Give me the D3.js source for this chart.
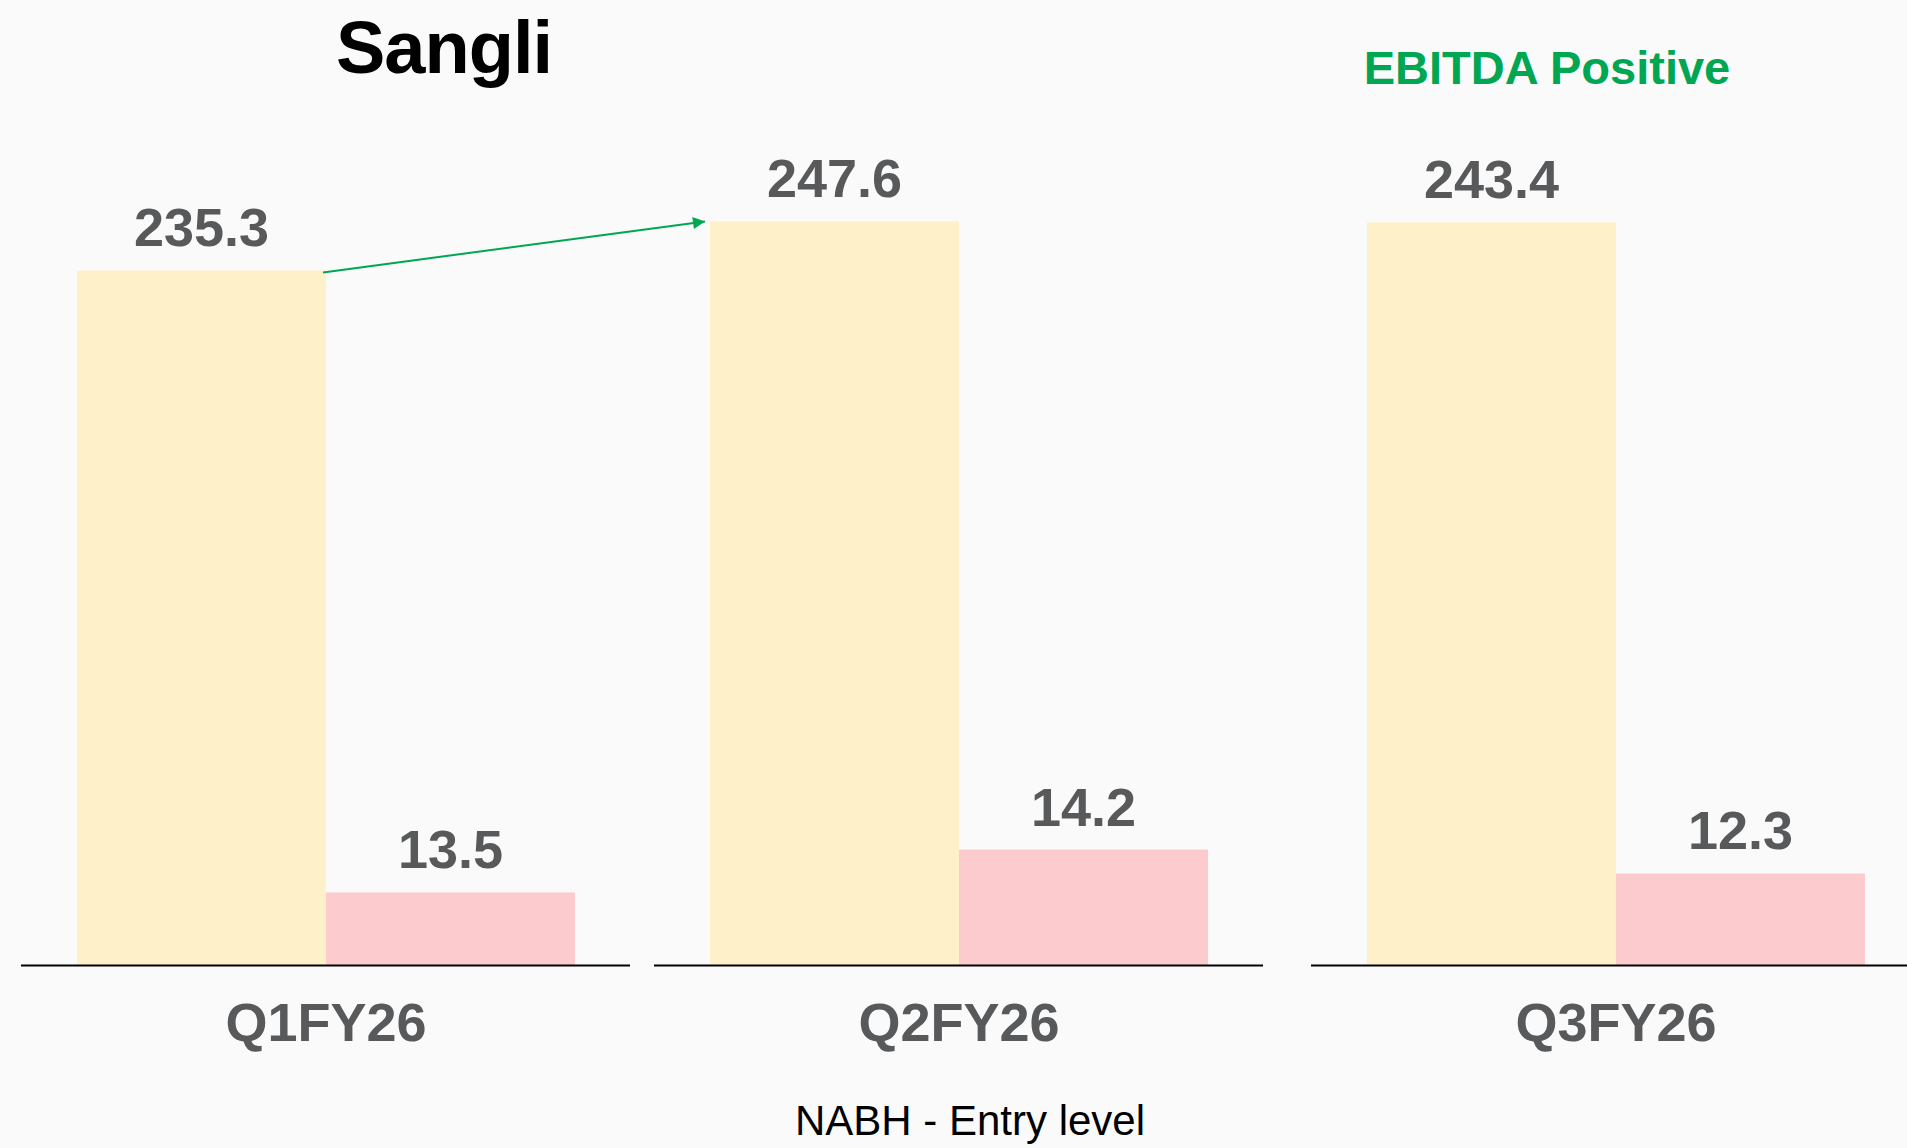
<!DOCTYPE html>
<html>
<head>
<meta charset="utf-8">
<script src="https://cdn.jsdelivr.net/npm/d3@7"></script>
<style>
  html, body { margin: 0; padding: 0; background: #fafafa; }
  svg { display: block; font-family: "Liberation Sans", Arial, Helvetica, sans-serif; }
</style>
</head>
<body>
<div id="chart"></div>
<script>
// data
var categories = ["Q1FY26", "Q2FY26", "Q3FY26"];
var revenue = [235.3, 247.6, 243.4];
var ebitda = [13.5, 14.2, 12.3];
// each quarter is its own little chart with a hidden primary / secondary axis
var revenueAxisMax = [293, 288, 283.5];
var ebitdaAxisMax = [160, 106, 115.7];
var seriesKeys = ["revenue", "ebitda"];

var width = 1907, height = 1148;
var baseY = 965.5, plotTop = 100;
var panelX = [21, 654, 1311],   // where each chart object sits on the slide
    panelW = 609;

var colors = { revenue: "#fef0c9", ebitda: "#fbcbce" };
var labelColor = "#58595b";

var svg = d3.select("#chart")
  .append("svg")
  .attr("width", width)
  .attr("height", height);

// arrow marker
svg.append("defs").append("marker")
    .attr("id", "arrow")
    .attr("viewBox", "0 0 10 10")
    .attr("refX", 10)
    .attr("refY", 5)
    .attr("markerWidth", 8)
    .attr("markerHeight", 6)
    .attr("markerUnits", "strokeWidth")
    .attr("orient", "auto")
  .append("path")
    .attr("d", "M0,0 L10,5 L0,10 z")
    .attr("fill", "#00a651");

// bars inside one panel
var xInner = d3.scaleBand()
    .domain(seriesKeys)
    .range([56, 554])
    .paddingInner(0);

var panels = categories.map(function(c, i) {
  return {
    cat: c,
    x0: panelX[i],
    values: { revenue: revenue[i], ebitda: ebitda[i] },
    y: {
      revenue: d3.scaleLinear().domain([0, revenueAxisMax[i]]).range([baseY, plotTop]),
      ebitda: d3.scaleLinear().domain([0, ebitdaAxisMax[i]]).range([baseY, plotTop])
    }
  };
});

var g = svg.selectAll("g.panel")
  .data(panels)
  .enter()
  .append("g")
    .attr("class", "panel")
    .attr("transform", function(d) { return "translate(" + d.x0 + ",0)"; });

g.selectAll("rect")
  .data(function(d) { return seriesKeys.map(function(k) { return { key: k, v: d.values[k], y: d.y[k] }; }); })
  .enter()
  .append("rect")
    .attr("x", function(d) { return xInner(d.key); })
    .attr("width", xInner.bandwidth())
    .attr("y", function(d) { return d.y(d.v); })
    .attr("height", function(d) { return baseY - d.y(d.v); })
    .attr("fill", function(d) { return colors[d.key]; });

// value labels
g.selectAll("text.val")
  .data(function(d) { return seriesKeys.map(function(k) { return { key: k, v: d.values[k], y: d.y[k] }; }); })
  .enter()
  .append("text")
    .attr("class", "val")
    .attr("x", function(d) { return xInner(d.key) + xInner.bandwidth() / 2; })
    .attr("y", function(d) { return d.y(d.v) - 24; })
    .attr("text-anchor", "middle")
    .style("font-size", "54px")
    .style("font-weight", "bold")
    .attr("fill", labelColor)
    .text(function(d) { return d3.format(".1f")(d.v); });

// baseline per panel
g.append("line")
  .attr("x1", 0)
  .attr("x2", panelW)
  .attr("y1", baseY)
  .attr("y2", baseY)
  .attr("stroke", "#000")
  .attr("stroke-width", 2);

// category labels
g.append("text")
  .attr("x", xInner.range()[0] + xInner.bandwidth())
  .attr("y", 1041)
  .attr("text-anchor", "middle")
  .style("font-size", "54px")
  .style("font-weight", "bold")
  .attr("fill", labelColor)
  .text(function(d) { return d.cat; });

// growth arrow Q1 -> Q2 revenue
var p1 = panels[0], p2 = panels[1];
svg.append("line")
  .attr("x1", p1.x0 + xInner("revenue") + xInner.bandwidth() - 3)
  .attr("y1", p1.y.revenue(p1.values.revenue) + 2)
  .attr("x2", p2.x0 + xInner("revenue") - 5)
  .attr("y2", p2.y.revenue(p2.values.revenue))
  .attr("stroke", "#00a651")
  .attr("stroke-width", 2)
  .attr("marker-end", "url(#arrow)");

// titles
svg.append("text")
  .attr("x", 444)
  .attr("y", 73)
  .attr("text-anchor", "middle")
  .style("font-size", "74px")
  .style("font-weight", "bold")
  .style("letter-spacing", "-1px")
  .attr("fill", "#000")
  .text("Sangli");

svg.append("text")
  .attr("x", 1547)
  .attr("y", 84)
  .attr("text-anchor", "middle")
  .style("font-size", "47px")
  .style("font-weight", "bold")
  .attr("fill", "#00a651")
  .text("EBITDA Positive");

svg.append("text")
  .attr("x", 970)
  .attr("y", 1135)
  .attr("text-anchor", "middle")
  .style("font-size", "42px")
  .attr("fill", "#000")
  .text("NABH - Entry level");
</script>
</body>
</html>
